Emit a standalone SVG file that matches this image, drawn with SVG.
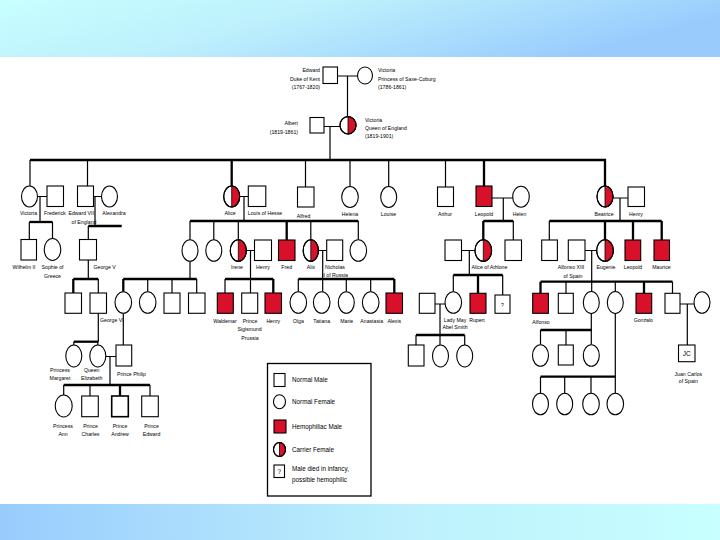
<svg xmlns="http://www.w3.org/2000/svg" width="720" height="540" viewBox="0 0 720 540">
<defs>
<linearGradient id="gTop" x1="0" y1="0" x2="1" y2="0.3">
<stop offset="0" stop-color="#c8ffff"/><stop offset="0.45" stop-color="#bdf0fc"/><stop offset="1" stop-color="#99ccfd"/>
</linearGradient>
<linearGradient id="gBot" x1="0" y1="0" x2="1" y2="0">
<stop offset="0" stop-color="#99ccfd"/><stop offset="0.55" stop-color="#bdf0fc"/><stop offset="1" stop-color="#c8ffff"/>
</linearGradient>
<style>
.sq{fill:#fff;stroke:#000;stroke-width:1.1}
.hm{fill:#d8102a;stroke:#000;stroke-width:1.1}
.ci{fill:#fff;stroke:#000;stroke-width:1.1}
.co{fill:none;stroke:#000;stroke-width:1.1}
.half{fill:#d8102a;stroke:#000;stroke-width:0.8}
.ln{fill:none;stroke:#000;stroke-width:1.2}
.sib{fill:none;stroke:#000;stroke-width:2.3}
.t{font-family:"Liberation Sans",Arial,sans-serif;font-size:5.2px;fill:#000}
.c{text-anchor:middle}
.e{text-anchor:end}
.lg{font-size:6.3px}
</style>
</defs>
<rect x="0" y="0" width="720" height="540" fill="#fff"/>
<rect x="0" y="0" width="720" height="57" fill="url(#gTop)"/>
<rect x="0" y="504" width="720" height="36" fill="url(#gBot)"/>

<g id="connectors">
<path class="ln" d="M337.5 76H357.5M347.5 76V116.6M324 126.5H340M330 126.5V160"/>
<path class="sib" d="M30 160H606"/>
<path class="ln" d="M30 160V186M87.5 160V186M305.5 160V187M350 160V186.5M388.7 160V186.5M445.5 160V187"/>
<path class="sib" d="M231.7 159V186M484 159V186M605 159V186"/>
<path class="ln" d="M37.5 196.5H47M40 196.5V222M29.3 222V239.5M52.5 222V238.5"/>
<path class="sib" d="M29.3 222H52.5"/>
<path class="ln" d="M93.5 196.5H101.5M95 196.5V226M88.3 226V239.5M88.3 260V279M98.3 279V293"/>
<path class="sib" d="M88.3 226H121.7M73.3 279H98.3M73.3 279V293"/>
<path class="ln" d="M239.7 196.5H248.3M244 196.5V221M190 221V239.7M213.8 221V239.7M238.3 221V239.7M310.8 221V239.7M358.3 221V239.7M190 261.3V279"/>
<path class="sib" d="M190 221H358.3M286.7 221V240"/>
<path class="sib" d="M123.3 279H196.7M123.3 279V291.7"/>
<path class="ln" d="M147.7 279V291.7M172 279V293M196.7 279V293"/>
<path class="ln" d="M246.3 250.5H254.5M250.5 250.5V293M225 279V293"/>
<path class="sib" d="M225 279H273.3M273.3 279V293"/>
<path class="ln" d="M318.8 250.5H326.7M322.7 250.5V291.7M298.3 279V291.7M346.3 279V291.7M370.7 279V291.7"/>
<path class="sib" d="M298.3 279H394.3M394.3 279V293"/>
<path class="ln" d="M492 198H513M503.3 198V221M513.3 221V240"/>
<path class="sib" d="M483.3 221H513.3M483.3 221V239.7"/>
<path class="ln" d="M461.5 250.5H475.3M469.3 250.5V275M453.3 275V291.7M502.7 275V295"/>
<path class="sib" d="M453.3 275H502.7M478 275V293.3"/>
<path class="ln" d="M435 304H445.3M440 304V345M416 335V345M464.7 335V345"/>
<path class="sib" d="M416 335H464.7"/>
<path class="ln" d="M613 198H628M620 198V221M549.3 221V240"/>
<path class="sib" d="M549.3 221H661.7M605 221V239.7M633 221V240M661.7 221V240"/>
<path class="ln" d="M585 250.5H597M591.7 250.5V291.7M566 281.7V293.3M615.3 281.7V291.7M672.5 281.7V293.3"/>
<path class="sib" d="M540.5 281.7H672.5M540.5 281.7V293.3M644 281.7V293.3"/>
<path class="ln" d="M680 304H694M687.3 304V345"/>
<path class="ln" d="M591.3 313.3V344.5M540.5 330V344.5M566 330V345"/>
<path class="sib" d="M540.5 330H591.3"/>
<path class="ln" d="M615.3 313.3V393.3M540.5 376.7V393.3M564.7 376.7V393.3M591 376.7V393.3"/>
<path class="sib" d="M540.5 376.7H615.3"/>
<path class="ln" d="M98.3 313.3V341.7M73.8 341.7V345M97.8 341.7V345M123.3 313.3V345"/>
<path class="sib" d="M73.8 341.7H98.3"/>
<path class="ln" d="M105.8 356.5H116M110 356.5V385M63.7 385V395M90 385V396M150 385V396"/>
<path class="sib" d="M63.7 385H150M120 385V396"/>
</g>

<!-- Generation 0 -->
<g id="edward-kent"><rect class="sq" x="323" y="67" width="14.5" height="16.5"/>
<text class="t e" x="320" y="72">Edward</text><text class="t e" x="320" y="80.5">Duke of Kent</text><text class="t e" x="320" y="89">(1767-1820)</text></g>
<g id="victoria-saxe"><ellipse class="ci" cx="365" cy="75.5" rx="7.5" ry="8.5"/>
<text class="t" x="378" y="72">Victoria</text><text class="t" x="378" y="80.5">Princess of Saxe-Coburg</text><text class="t" x="378" y="89">(1786-1861)</text></g>
<g id="albert"><rect class="sq" x="310" y="117.5" width="14" height="15.5"/>
<text class="t e" x="298" y="125">Albert</text><text class="t e" x="298" y="133.5">(1819-1861)</text></g>
<g id="queen-victoria"><ellipse class="ci" cx="348" cy="125.3" rx="8" ry="8.7"/><path class="half" d="M348 116.6A8 8.7 0 0 1 348 134Z"/><ellipse class="co" cx="348" cy="125.3" rx="8" ry="8.7"/>
<text class="t" x="365" y="121.5">Victoria</text><text class="t" x="365" y="129.5">Queen of England</text><text class="t" x="365" y="137.5">(1819-1901)</text></g>

<!-- Generation 1 -->
<g id="victoria-pr"><ellipse class="ci" cx="29.5" cy="196.5" rx="8" ry="10.5"/><text class="t c" x="28.5" y="215">Victoria</text></g>
<g id="frederick"><rect class="sq" x="47" y="186" width="16.5" height="20.5"/><text class="t" x="44" y="215">Frederick</text></g>
<g id="edward-vii"><rect class="sq" x="77.5" y="186" width="16" height="20.5"/><text class="t" x="68.5" y="215">Edward VII</text><text class="t c" x="84" y="223.5">of England</text></g>
<g id="alexandra"><ellipse class="ci" cx="109.5" cy="196.5" rx="8" ry="10.5"/><text class="t c" x="114" y="215">Alexandra</text></g>
<g id="alice"><ellipse class="ci" cx="231.7" cy="196.5" rx="8" ry="10.5"/><path class="half" d="M231.7 186A8 10.5 0 0 1 231.7 207Z"/><ellipse class="co" cx="231.7" cy="196.5" rx="8" ry="10.5"/><text class="t c" x="230" y="215">Alice</text></g>
<g id="louis-hesse"><rect class="sq" x="248.3" y="186" width="17.5" height="20.5"/><text class="t c" x="265" y="215">Louis of Hesse</text></g>
<g id="alfred"><rect class="sq" x="297.5" y="187" width="16.5" height="20"/><text class="t c" x="303.5" y="218">Alfred</text></g>
<g id="helena"><ellipse class="ci" cx="350" cy="197" rx="8.3" ry="10.5"/><text class="t c" x="350" y="216">Helena</text></g>
<g id="louise"><ellipse class="ci" cx="388.7" cy="197" rx="8" ry="10.5"/><text class="t c" x="388.5" y="216">Louise</text></g>
<g id="arthur"><rect class="sq" x="437.5" y="187" width="16" height="19.5"/><text class="t c" x="445" y="216">Arthur</text></g>
<g id="leopold1"><rect class="hm" x="476" y="186" width="16" height="20.5"/><text class="t c" x="484" y="216">Leopold</text></g>
<g id="helen"><ellipse class="ci" cx="521" cy="196.7" rx="8.3" ry="10.5"/><text class="t c" x="519.5" y="216">Helen</text></g>
<g id="beatrice"><ellipse class="ci" cx="605" cy="196.5" rx="8" ry="10.5"/><path class="half" d="M605 186A8 10.5 0 0 1 605 207Z"/><ellipse class="co" cx="605" cy="196.5" rx="8" ry="10.5"/><text class="t c" x="604" y="216">Beatrice</text></g>
<g id="henry1"><rect class="sq" x="628" y="187" width="16.5" height="19.5"/><text class="t c" x="636" y="216">Henry</text></g>

<!-- Generation 2 -->
<g id="wilhelm"><rect class="sq" x="21" y="239.5" width="15.5" height="20.5"/><text class="t c" x="24" y="269">Wilhelm II</text></g>
<g id="sophie"><ellipse class="ci" cx="52.5" cy="249.5" rx="8.3" ry="11"/><text class="t c" x="52.5" y="269">Sophie of</text><text class="t c" x="52.5" y="278">Greece</text></g>
<g id="george-v"><rect class="sq" x="79.5" y="239.5" width="17" height="20.5"/><text class="t" x="93.5" y="269">George V</text></g>
<g id="victoria-hesse"><ellipse class="ci" cx="190" cy="250.5" rx="8" ry="10.8"/></g>
<g id="elizabeth-hesse"><ellipse class="ci" cx="213.8" cy="250.5" rx="8" ry="10.8"/></g>
<g id="irene"><ellipse class="ci" cx="238.3" cy="250.5" rx="8" ry="10.8"/><path class="half" d="M238.3 239.7A8 10.8 0 0 1 238.3 261.3Z"/><ellipse class="co" cx="238.3" cy="250.5" rx="8" ry="10.8"/><text class="t c" x="237" y="269">Irene</text></g>
<g id="henry2"><rect class="sq" x="254.5" y="240" width="17" height="20.5"/><text class="t c" x="263" y="269">Henry</text></g>
<g id="fred"><rect class="hm" x="278.5" y="240" width="16.5" height="20.5"/><text class="t c" x="286.7" y="269">Fred</text></g>
<g id="alix"><ellipse class="ci" cx="310.8" cy="250.5" rx="7.6" ry="10.8"/><path class="half" d="M310.8 239.7A7.6 10.8 0 0 1 310.8 261.3Z"/><ellipse class="co" cx="310.8" cy="250.5" rx="7.6" ry="10.8"/><text class="t c" x="311" y="269">Alix</text></g>
<g id="nicholas"><rect class="sq" x="326.7" y="240" width="16" height="20.5"/><text class="t c" x="335" y="268.5">Nicholas</text><text class="t c" x="335" y="277">II of Russia</text></g>
<g id="alice-d"><ellipse class="ci" cx="358.3" cy="250.5" rx="8.3" ry="10.8"/></g>
<g id="alexander"><rect class="sq" x="445" y="240" width="16.5" height="20.5"/></g>
<g id="alice-athlone"><ellipse class="ci" cx="483.3" cy="250.5" rx="8.3" ry="10.8"/><path class="half" d="M483.3 239.7A8.3 10.8 0 0 1 483.3 261.3Z"/><ellipse class="co" cx="483.3" cy="250.5" rx="8.3" ry="10.8"/><text class="t c" x="489.5" y="269">Alice of Athlone</text></g>
<g id="charles-edward"><rect class="sq" x="505" y="240" width="16.5" height="20.5"/></g>
<g id="alexander-b"><rect class="sq" x="541.7" y="240" width="15.7" height="20.5"/></g>
<g id="alfonso-xiii"><rect class="sq" x="568.3" y="240" width="16.7" height="20.5"/><text class="t c" x="571" y="269">Alfonso XIII</text><text class="t c" x="573" y="277.5">of Spain</text></g>
<g id="eugenie"><ellipse class="ci" cx="605" cy="250.5" rx="8.3" ry="10.8"/><path class="half" d="M605 239.7A8.3 10.8 0 0 1 605 261.3Z"/><ellipse class="co" cx="605" cy="250.5" rx="8.3" ry="10.8"/><text class="t c" x="606" y="269">Eugenie</text></g>
<g id="leopold2"><rect class="hm" x="625" y="240" width="15.7" height="20.5"/><text class="t c" x="633" y="269">Leopold</text></g>
<g id="maurice"><rect class="hm" x="654" y="240" width="15.5" height="20.5"/><text class="t c" x="661.5" y="269">Maurice</text></g>

<!-- Generation 3 -->
<g id="edward-viii"><rect class="sq" x="65" y="293" width="16.5" height="20.3"/></g>
<g id="george-vi"><rect class="sq" x="90" y="293" width="16.5" height="20.3"/><text class="t" x="100" y="321.5">George VI</text></g>
<g id="alice-b"><ellipse class="ci" cx="123.3" cy="302.5" rx="8.3" ry="10.8"/></g>
<g id="louise-b"><ellipse class="ci" cx="147.7" cy="302.5" rx="8.3" ry="10.8"/></g>
<g id="george-b"><rect class="sq" x="164" y="293" width="16" height="20.3"/></g>
<g id="louis-b"><rect class="sq" x="188.5" y="293" width="16.5" height="20.3"/></g>
<g id="waldemar"><rect class="hm" x="217.3" y="293" width="16" height="20.3"/><text class="t c" x="225" y="322.5">Waldemar</text></g>
<g id="sigismund"><rect class="sq" x="241.7" y="293" width="16" height="20.3"/><text class="t c" x="250" y="322.5">Prince</text><text class="t c" x="249.5" y="331">Sigismund</text><text class="t c" x="250" y="339.5">Prussia</text></g>
<g id="henry3"><rect class="hm" x="265" y="293" width="16.5" height="20.3"/><text class="t c" x="273.3" y="322.5">Henry</text></g>
<g id="olga"><ellipse class="ci" cx="298.3" cy="302.5" rx="8.3" ry="10.8"/><text class="t c" x="298.3" y="322.5">Olga</text></g>
<g id="tatiana"><ellipse class="ci" cx="321.7" cy="302.5" rx="8.3" ry="10.8"/><text class="t c" x="321.7" y="322.5">Tatiana</text></g>
<g id="marie"><ellipse class="ci" cx="346.3" cy="302.5" rx="8" ry="10.8"/><text class="t c" x="346.7" y="322.5">Marie</text></g>
<g id="anastasia"><ellipse class="ci" cx="370.7" cy="302.5" rx="8.3" ry="10.8"/><text class="t c" x="371.7" y="322.5">Anastasia</text></g>
<g id="alexis"><rect class="hm" x="386" y="293" width="16.5" height="20.3"/><text class="t c" x="394.3" y="322.5">Alexis</text></g>
<g id="abel-smith"><rect class="sq" x="419.3" y="293.3" width="15.7" height="20"/></g>
<g id="lady-may"><ellipse class="ci" cx="453.3" cy="302.5" rx="8.3" ry="10.8"/><text class="t c" x="455" y="321.5">Lady May</text><text class="t c" x="455" y="329">Abel Smith</text></g>
<g id="rupert"><rect class="hm" x="470" y="293.3" width="16" height="20"/><text class="t c" x="477" y="321.5">Rupert</text></g>
<g id="infant"><rect class="sq" x="495" y="295" width="15" height="18.3"/><text class="t c" x="502.5" y="306.5">?</text></g>
<g id="alfonso"><rect class="hm" x="532.7" y="293.3" width="15.7" height="20"/><text class="t c" x="541" y="323.5">Alfonso</text></g>
<g id="jaime"><rect class="sq" x="558.3" y="293.3" width="15" height="20"/></g>
<g id="beatriz"><ellipse class="ci" cx="591.3" cy="302.5" rx="8" ry="11"/></g>
<g id="maria-cristina"><ellipse class="ci" cx="615.3" cy="302.5" rx="8" ry="11"/></g>
<g id="gonzalo"><rect class="hm" x="636" y="293.3" width="15.7" height="20"/><text class="t c" x="643.3" y="321.5">Gonzalo</text></g>
<g id="juan"><rect class="sq" x="665" y="293.3" width="15" height="20"/></g>
<g id="maria-mercedes"><ellipse class="ci" cx="702" cy="302.5" rx="8" ry="10.8"/></g>

<!-- Generation 4 -->
<g id="abel-1"><rect class="sq" x="408.3" y="345" width="15.7" height="21"/></g>
<g id="abel-2"><ellipse class="ci" cx="440.5" cy="356" rx="8" ry="11"/></g>
<g id="abel-3"><ellipse class="ci" cx="464.7" cy="356" rx="8" ry="11"/></g>
<g id="b-1"><ellipse class="ci" cx="540.5" cy="355.5" rx="8" ry="10.8"/></g>
<g id="b-2"><rect class="sq" x="558.3" y="345" width="15" height="20"/></g>
<g id="b-3"><ellipse class="ci" cx="591.3" cy="355.5" rx="8" ry="10.8"/></g>
<g id="juan-carlos"><rect class="sq" x="678.5" y="345" width="16.5" height="16.7"/><text class="t c" x="686.8" y="355.5" style="font-size:6.5px">JC</text><text class="t c" x="688.3" y="375.5">Juan Carlos</text><text class="t c" x="688.3" y="383">of Spain</text></g>
<g id="mc-1"><ellipse class="ci" cx="540.5" cy="404" rx="8" ry="10.8"/></g>
<g id="mc-2"><ellipse class="ci" cx="564.7" cy="404" rx="8" ry="10.8"/></g>
<g id="mc-3"><ellipse class="ci" cx="591" cy="404" rx="8.3" ry="10.8"/></g>
<g id="mc-4"><ellipse class="ci" cx="615.3" cy="404" rx="8.3" ry="10.8"/></g>
<g id="margaret"><ellipse class="ci" cx="73.8" cy="356" rx="8" ry="11"/><text class="t c" x="60" y="372">Princess</text><text class="t c" x="60" y="380">Margaret</text></g>
<g id="elizabeth"><ellipse class="ci" cx="97.8" cy="356" rx="8" ry="11"/><text class="t c" x="91.7" y="372">Queen</text><text class="t c" x="91.7" y="380">Elizabeth</text></g>
<g id="philip"><rect class="sq" x="116" y="345" width="15.7" height="21"/><text class="t" x="117" y="375.5">Prince Philip</text></g>

<!-- Generation 5 -->
<g id="ann"><ellipse class="ci" cx="63.7" cy="406" rx="8.5" ry="11"/><text class="t c" x="63" y="427.5">Princess</text><text class="t c" x="63" y="436">Ann</text></g>
<g id="charles"><rect class="sq" x="81.7" y="396" width="16.6" height="20.7"/><text class="t c" x="90.5" y="427.5">Prince</text><text class="t c" x="90.5" y="436">Charles</text></g>
<g id="andrew"><rect class="sq" x="111.7" y="396" width="16.6" height="20.7" style="stroke-width:1.6"/><text class="t c" x="120" y="427.5">Prince</text><text class="t c" x="120" y="436">Andrew</text></g>
<g id="edward"><rect class="sq" x="141.7" y="396" width="16.6" height="20.7"/><text class="t c" x="151.5" y="427.5">Prince</text><text class="t c" x="151.5" y="436">Edward</text></g>

<!-- Legend -->
<g id="legend">
<rect x="267.5" y="363.5" width="103.5" height="132.5" fill="#fff" stroke="#000" stroke-width="1.3"/>
<rect class="sq" x="274" y="373.5" width="11" height="13"/><text class="t lg" x="292" y="382.3">Normal Male</text>
<ellipse class="ci" cx="279.5" cy="401.7" rx="6" ry="7"/><text class="t lg" x="292" y="404">Normal Female</text>
<rect class="hm" x="274" y="420" width="12" height="13"/><text class="t lg" x="292" y="429">Hemophiliac Male</text>
<ellipse class="ci" cx="279.5" cy="449.5" rx="6" ry="7"/><path class="half" d="M279.5 442.5A6 7 0 0 1 279.5 456.5Z"/><ellipse class="co" cx="279.5" cy="449.5" rx="6" ry="7"/><text class="t lg" x="292" y="451.8">Carrier Female</text>
<rect class="sq" x="274" y="465" width="10.5" height="12.5"/><text class="t c" x="279.3" y="473.5" style="font-size:6.3px">?</text>
<text class="t lg" x="292" y="470.5">Male died in infancy,</text><text class="t lg" x="292" y="482">possible hemophilic</text>
</g>
</svg>
